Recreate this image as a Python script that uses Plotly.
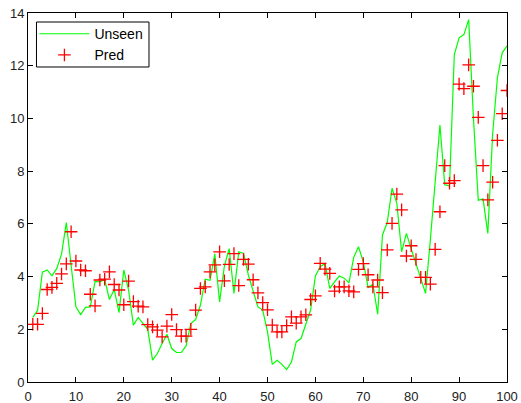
import plotly.graph_objects as go

# Sample index
x_idx = list(range(1, 101))

# Observed series on unseen samples
unseen = [
    2.45, 2.72, 4.17, 4.25, 4.03, 4.30, 4.85, 6.05, 4.43, 2.85,
    2.56, 2.83, 2.85, 3.82, 3.80, 3.89, 3.13, 3.51, 2.63, 4.25,
    3.49, 2.16, 2.45, 2.24, 2.00, 0.83, 1.08, 1.46, 1.81, 1.27,
    1.12, 1.12, 1.37, 2.22, 2.37, 2.92, 3.90, 3.86, 4.86, 3.04,
    4.40, 5.06, 3.36, 4.94, 4.88, 4.06, 3.42, 2.85, 2.73, 1.90,
    0.67, 0.82, 0.67, 0.47, 0.76, 1.52, 1.65, 2.16, 2.73, 4.02,
    4.37, 4.50, 3.55, 3.80, 4.02, 3.94, 3.76, 4.73, 5.13, 4.56,
    3.59, 3.71, 2.57, 5.58, 6.05, 7.35, 6.78, 4.94, 5.64, 5.05,
    4.50, 3.87, 3.36, 5.40, 7.50, 9.75, 7.48, 7.44, 12.42, 13.06,
    13.18, 13.75, 10.00, 6.90, 6.94, 5.64, 9.40, 11.55, 12.49, 12.75,
]

# Model predictions
pred = [
    2.19, 2.19, 2.60, 3.51, 3.59, 3.74, 4.10, 4.48, 5.70, 4.59,
    4.25, 4.22, 3.33, 2.89, 3.87, 3.90, 4.18, 3.70, 3.49, 2.93,
    3.83, 3.05, 2.88, 2.85, 2.18, 2.09, 1.97, 1.71, 2.12, 2.56,
    1.99, 1.74, 1.74, 2.00, 2.73, 3.55, 3.61, 4.18, 4.44, 4.94,
    3.84, 4.46, 4.87, 3.66, 4.65, 4.47, 3.88, 3.38, 3.01, 2.74,
    2.16, 1.90, 1.90, 2.14, 2.47, 2.23, 2.47, 2.55, 3.13, 3.27,
    4.50, 4.28, 4.12, 3.45, 3.61, 3.61, 3.46, 3.42, 4.27, 4.49,
    4.07, 3.61, 3.87, 3.39, 5.01, 6.02, 7.13, 6.53, 4.78, 5.17,
    4.65, 3.97, 3.97, 3.71, 5.03, 6.46, 8.21, 7.54, 7.64, 11.30,
    11.13, 12.03, 11.22, 10.04, 8.21, 6.91, 7.58, 9.17, 10.18, 11.06,
]

x_ticks = [0, 10, 20, 30, 40, 50, 60, 70, 80, 90, 100]
y_ticks = [0, 2, 4, 6, 8, 10, 12, 14]

fig = go.Figure()
fig.add_trace(go.Scatter(
    x=x_idx, y=unseen, mode="lines", name="Unseen",
    line=dict(color="#00ff00", width=1.2),
))
fig.add_trace(go.Scatter(
    x=x_idx, y=pred, mode="markers", name="Pred",
    marker=dict(symbol="cross-thin", size=9, color="red",
                line=dict(color="red", width=1.3)),
))

axis_common = dict(
    showline=True, linecolor="black", linewidth=1, mirror="ticks",
    ticks="inside", ticklen=5, tickcolor="black",
    showgrid=False, zeroline=False, automargin=False,
    tickfont=dict(family="Liberation Sans, Arial, sans-serif", size=13, color="#222"),
)

# Compact frame around the legend entries
fig.add_shape(
    type="rect", xref="paper", yref="paper",
    x0=0.0177, x1=0.2526, y0=0.8537, y1=0.9756,
    line=dict(color="black", width=1), fillcolor="rgba(0,0,0,0)", layer="above",
)

fig.update_layout(
    width=521, height=403,
    margin=dict(l=28, r=14, t=13, b=21, autoexpand=False),
    paper_bgcolor="white", plot_bgcolor="white",
    xaxis=dict(range=[0, 100], tickvals=x_ticks, ticklabelstandoff=2, **axis_common),
    yaxis=dict(range=[0, 14], tickvals=y_ticks, **axis_common),
    legend=dict(
        x=0.0134, y=0.986, xanchor="left", yanchor="top",
        bgcolor="rgba(0,0,0,0)", borderwidth=0,
        font=dict(family="Liberation Sans, Arial, sans-serif", size=14, color="black"),
        tracegroupgap=0, itemwidth=50,
    ),
    showlegend=True,
)

fig.write_html("out.html")
